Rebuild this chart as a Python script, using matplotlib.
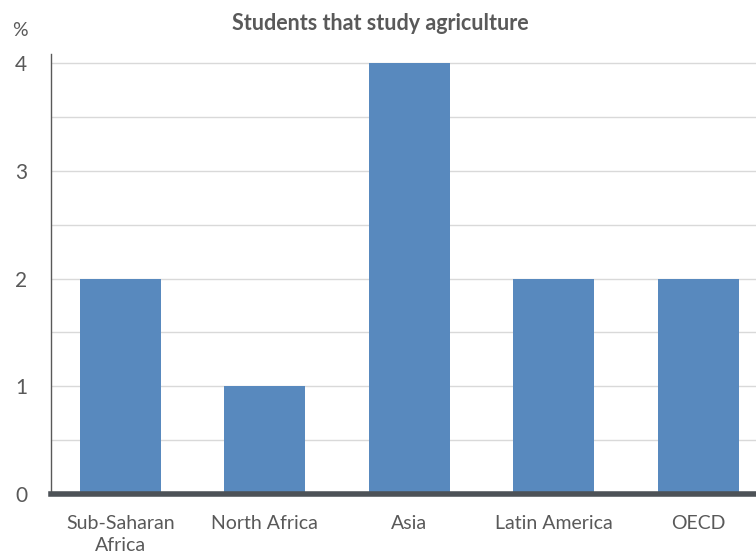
import matplotlib
matplotlib.use('Agg')
import matplotlib.pyplot as plt
from matplotlib.ticker import MultipleLocator

# data
regions = ['Sub-Saharan\nAfrica', 'North Africa', 'Asia', 'Latin America', 'OECD']
share = [2, 1, 4, 2, 2]

bar_color = '#5889BE'
text_color = '#595959'

plt.rcParams['font.family'] = ['Lato', 'DejaVu Sans']

fig = plt.figure(figsize=(7.56, 5.54), dpi=100)
ax = fig.add_axes([51 / 756, 1 - 494 / 554, 705 / 756, 440 / 554])

ax.bar(range(len(regions)), share, width=0.56, color=bar_color, zorder=2)

ax.set_xlim(-0.48, 4.40)
ax.set_ylim(0, 4.085)
ax.yaxis.set_major_locator(MultipleLocator(1))
ax.yaxis.set_minor_locator(MultipleLocator(0.5))
ax.grid(axis='y', which='both', color='#D9D9D9', linewidth=1, zorder=0)

ax.set_xticks(range(len(regions)))
ax.set_xticklabels(regions, fontsize=14, color=text_color, linespacing=1.4)
ax.tick_params(axis='y', labelsize=15, labelcolor=text_color, pad=17)
ax.tick_params(axis='both', which='both', length=0)
ax.tick_params(axis='x', pad=15)

for side in ['top', 'right']:
    ax.spines[side].set_visible(False)
ax.spines['left'].set_color('#595959')
ax.spines['left'].set_linewidth(1)
ax.spines['bottom'].set_color('#4D5257')
ax.spines['bottom'].set_linewidth(4)
ax.spines['bottom'].set_zorder(3)

fig.text(380 / 756, 1 - 23 / 554, 'Students that study agriculture', ha='center', va='center',
         fontsize=15.5, fontweight='bold', color=text_color)
fig.text(20 / 756, 1 - 31 / 554, '%', ha='center', va='center', fontsize=14, color=text_color)

fig.savefig('out.png', dpi=100)
